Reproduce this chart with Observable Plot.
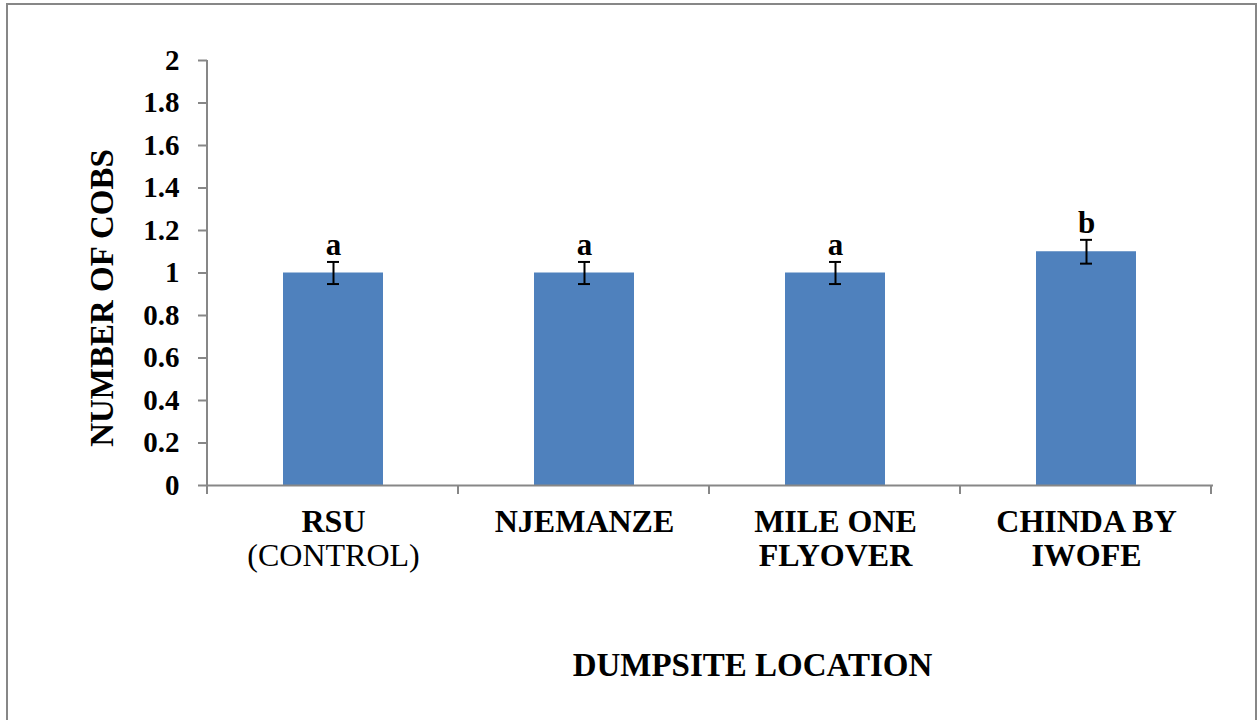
<!DOCTYPE html>
<html>
<head>
<meta charset="utf-8">
<script src="https://cdn.jsdelivr.net/npm/d3@7"></script>
<script src="https://cdn.jsdelivr.net/npm/@observablehq/plot@0.6"></script>
<style>
  html, body { margin: 0; padding: 0; background: #fff; }
  #wrap { position: relative; width: 1257px; height: 720px; overflow: hidden; }
  #border { position: absolute; left: 6px; top: 3px; width: 1251px; height: 740px; box-sizing: border-box; border: 2px solid #878787; border-bottom: none; }
  #chart { position: absolute; left: 0; top: 0; }
</style>
</head>
<body>
<div id="wrap"><div id="border"></div><div id="chart"></div></div>
<script>
const categories = ["RSU", "NJEMANZE", "MILE ONE", "CHINDA BY"];
const labelLine1 = ["RSU", "NJEMANZE", "MILE ONE", "CHINDA BY"];
const labelLine2 = ["(CONTROL)", "", "FLYOVER", "IWOFE"];
const means = [1.0, 1.0, 1.0, 1.1];
const errors = [0.052, 0.052, 0.052, 0.056];
const letters = ["a", "a", "a", "b"];
const yTicks = [0, 0.2, 0.4, 0.6, 0.8, 1, 1.2, 1.4, 1.6, 1.8, 2];
const yTitle = "NUMBER OF COBS";
const xTitle = "DUMPSITE LOCATION";

const data = categories.map((c, i) => ({
  cat: c, mean: means[i], err: errors[i], letter: letters[i],
  l1: labelLine1[i], l2: labelLine2[i]
}));

const FONT = "'Liberation Serif', 'Times New Roman', serif";
const GRAY = "#878787";
const BLUE = "#4F81BD";

const plot = Plot.plot({
  width: 1257,
  height: 720,
  marginLeft: 207,
  marginRight: 44,
  marginTop: 60,
  marginBottom: 235,
  style: { fontFamily: FONT, color: "black", background: "transparent" },
  x: { domain: categories, paddingInner: 0.6, paddingOuter: 0.3, axis: null },
  y: { domain: [0, 2] },
  marks: [
    Plot.barY(data, { x: "cat", y: "mean", fill: BLUE }),
    Plot.ruleY([0], { stroke: GRAY, strokeWidth: 2 }),
    Plot.axisY({
      ticks: yTicks,
      tickFormat: d => String(+d.toFixed(1)),
      tickSize: 9,
      tickPadding: 19,
      fontSize: 29,
      fontWeight: "bold",
      stroke: GRAY,
      strokeWidth: 2,
      label: null
    }),
    Plot.ruleX(data, { x: "cat", y1: d => d.mean - d.err, y2: d => d.mean + d.err, stroke: "black", strokeWidth: 2 }),
    Plot.tickY(data, { x: "cat", y: d => d.mean - d.err, stroke: "black", strokeWidth: 2, insetLeft: 44, insetRight: 44 }),
    Plot.tickY(data, { x: "cat", y: d => d.mean + d.err, stroke: "black", strokeWidth: 2, insetLeft: 44, insetRight: 44 }),
    Plot.text(data, { x: "cat", y: d => d.mean + d.err, text: "letter", lineAnchor: "bottom", dy: -7, fontSize: 31, fontWeight: "bold", fill: "black" }),
    Plot.text(data, { x: "cat", text: "l1", frameAnchor: "bottom", dy: 46, fontSize: 32, fontWeight: "bold", fill: "black" }),
    Plot.text(data.filter(d => d.cat !== "RSU"), { x: "cat", text: "l2", frameAnchor: "bottom", dy: 80, fontSize: 32, fontWeight: "bold", fill: "black" }),
    Plot.text(data.filter(d => d.cat === "RSU"), { x: "cat", text: "l2", frameAnchor: "bottom", dy: 80, fontSize: 32, fontWeight: "normal", fill: "black" }),
    Plot.text([xTitle], { frameAnchor: "bottom", dx: 42, dy: 190, fontSize: 33, fontWeight: "bold", fill: "black" }),
    Plot.text([yTitle], { frameAnchor: "left", textAnchor: "middle", dx: -105, dy: 25, rotate: -90, fontSize: 33, fontWeight: "bold", fill: "black" })
  ]
});

// y-axis line and x boundary ticks from the plot's own scales
const xs = plot.scale("x");
const ys = plot.scale("y");
const svg = d3.select(plot);
const g = svg.append("g").attr("stroke", GRAY).attr("stroke-width", 2);
const x0 = xs.range[0];
g.append("line").attr("x1", x0).attr("x2", x0).attr("y1", ys.apply(2)).attr("y2", ys.apply(0));
for (let i = 0; i <= categories.length; i++) {
  const xx = x0 + i * xs.step;
  g.append("line").attr("x1", xx).attr("x2", xx).attr("y1", ys.apply(0)).attr("y2", ys.apply(0) + 9);
}
document.getElementById("chart").appendChild(plot);
</script>
</body>
</html>
